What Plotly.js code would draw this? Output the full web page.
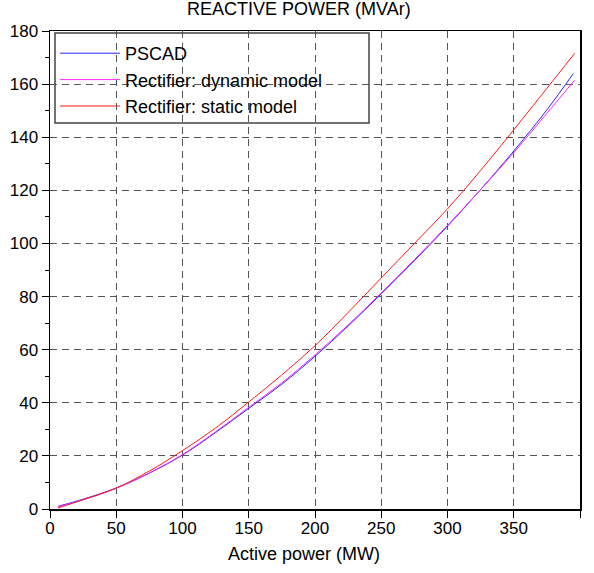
<!DOCTYPE html>
<html>
<head>
<meta charset="utf-8">
<script src="https://cdn.plot.ly/plotly-3.0.1.min.js"></script>
<style>html,body{margin:0;padding:0;background:#fff;}#chart{width:594px;height:573px;}</style>
</head>
<body>
<div id="chart"></div>
<script>
// Active power (MW)
const pPSCAD = [6, 25, 50, 75, 100, 125, 150, 175, 200, 225, 250, 275, 300, 325, 350, 375, 395];
const qPSCAD = [1.0, 3.7, 7.9, 13.5, 20.3, 28.8, 37.9, 47.0, 57.5, 68.9, 81.0, 93.5, 106.5, 120.3, 134.8, 150.3, 164.0];

const pDynamic = [6, 25, 50, 75, 100, 125, 150, 175, 200, 225, 250, 275, 300, 325, 350, 375, 396];
const qDynamic = [0.8, 3.5, 7.8, 13.6, 20.5, 29.1, 38.3, 47.5, 58.0, 69.3, 81.4, 93.9, 106.8, 120.3, 134.2, 149.0, 161.5];

const pStatic = [6, 25, 50, 75, 100, 125, 150, 175, 200, 225, 250, 275, 300, 325, 350, 375, 396];
const qStatic = [0.4, 3.5, 7.9, 14.3, 22.0, 30.5, 40.3, 50.5, 61.5, 74.0, 87.0, 100.0, 113.0, 127.5, 142.8, 158.4, 171.6];

const seriesNames = ["PSCAD", "Rectifier: dynamic model", "Rectifier: static model"];
const xTicks = [0, 50, 100, 150, 200, 250, 300, 350, 400];
const yTicks = [0, 20, 40, 60, 80, 100, 120, 140, 160, 180];

const FONT = "Liberation Sans, Arial, sans-serif";

const traces = [
  {x: pPSCAD, y: qPSCAD, name: seriesNames[0], mode: "lines", line: {color: "#2828ff", width: 1, shape: "spline"}},
  {x: pDynamic, y: qDynamic, name: seriesNames[1], mode: "lines", line: {color: "#ff28ff", width: 1, shape: "spline"}},
  {x: pStatic, y: qStatic, name: seriesNames[2], mode: "lines", line: {color: "#ff1a1a", width: 1, shape: "spline"}}
];

const axisCommon = {
  showline: true, linecolor: "#000", linewidth: 1.5, mirror: true,
  showgrid: true, gridcolor: "#555", griddash: "7px,5px", gridwidth: 1,
  zeroline: false,
  ticks: "outside", ticklen: 7, tickcolor: "#000", tickwidth: 1,
  tickfont: {family: FONT, size: 17, color: "#000"}
};

// plot area in pixels: x 50..580, y 31..509
const PL = 50, PW = 530, PT = 31, PH = 478;
const px = v => (v - PL) / PW;
const py = v => (PT + PH - v) / PH;

const layout = {
  width: 594, height: 573,
  margin: {l: 50, r: 14, t: 31, b: 64},
  paper_bgcolor: "#fff", plot_bgcolor: "#fff",
  font: {family: FONT, color: "#000"},
  showlegend: true,
  legend: {
    x: px(55), y: py(35), xanchor: "left", yanchor: "top",
    bgcolor: "rgba(0,0,0,0)", borderwidth: 0,
    font: {family: FONT, size: 18, color: "#000"},
    itemwidth: 60
  },
  shapes: [
    {type: "rect", xref: "paper", yref: "paper", x0: px(55), x1: px(369), y0: py(123), y1: py(33),
     line: {color: "#444", width: 1.5}, fillcolor: "rgba(0,0,0,0)", layer: "above"}
  ],
  xaxis: Object.assign({}, axisCommon, {
    range: [0, 400], tickvals: xTicks, ticktext: xTicks.map(String), ticklabelstandoff: -4
  }),
  yaxis: Object.assign({}, axisCommon, {
    range: [0, 180], tickvals: yTicks, ticktext: yTicks.map(String),
    minor: {dtick: 10, ticks: "outside", ticklen: 4, tickcolor: "#000", showgrid: false}
  }),
  annotations: [
    {text: "REACTIVE POWER (MVAr)", xref: "paper", yref: "paper", x: px(299), y: 1, yshift: 22,
     xanchor: "center", yanchor: "middle", showarrow: false, font: {family: FONT, size: 18, color: "#000"}},
    {text: "Active power (MW)", xref: "paper", yref: "paper", x: px(304), y: 0, yshift: -45,
     xanchor: "center", yanchor: "middle", showarrow: false, font: {family: FONT, size: 18, color: "#000"}}
  ]
};

Plotly.newPlot("chart", traces, layout, {displayModeBar: false, staticPlot: true});
</script>
</body>
</html>
